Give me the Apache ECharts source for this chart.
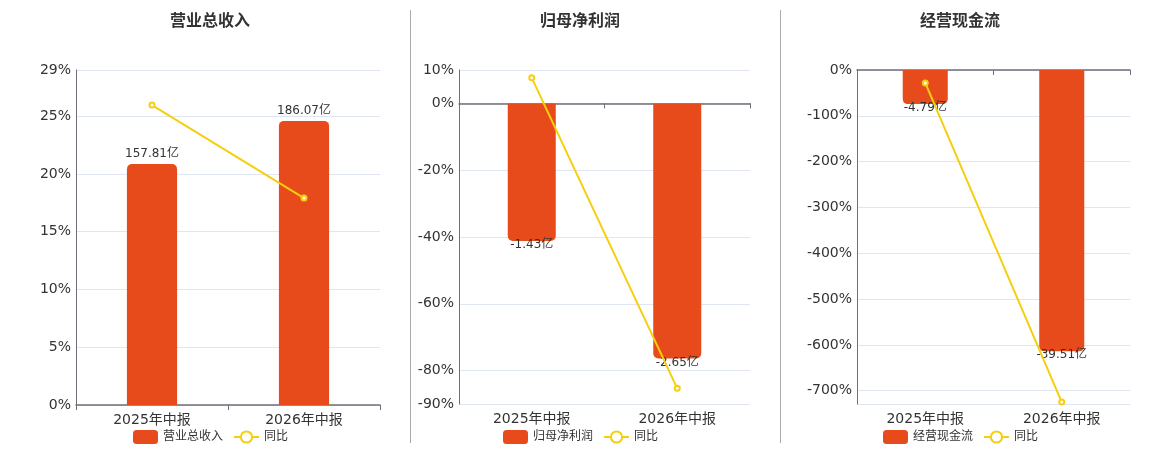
<!DOCTYPE html>
<html>
<head>
<meta charset="utf-8">
<script src="https://cdn.jsdelivr.net/npm/echarts@6/dist/echarts.min.js"></script>
<style>
  html, body { margin: 0; padding: 0; background: #fff; }
  #main { width: 1160px; height: 450px; }
</style>
</head>
<body>
<div id="main"></div>
<script>
// categories shared by the three panels
const categories = ['2025年中报', '2026年中报'];

// 营业总收入 (亿) and 同比 (%)
const revenue = [157.81, 186.07];
const revenueYoy = [25.96, 17.91];

// 归母净利润 (亿) and 同比 (%)
const netProfit = [-1.43, -2.65];
const netProfitYoy = [7.66, -85.31];

// 经营现金流 (亿) and 同比 (%)
const cashFlow = [-4.79, -39.51];
const cashFlowYoy = [-28.3, -724.84];

const BAR_COLOR = '#E84B1B';
const LINE_COLOR = '#F5CF0D';
const FONT = "'DejaVu Sans', 'Noto Sans CJK SC', sans-serif";

// one panel per metric: grid box, axis ranges, where the title/legend sit
const panels = [
    {
        name: '营业总收入', bars: revenue, yoy: revenueYoy,
        grid: { left: 76, top: 70, width: 304, height: 335 },
        pctMin: 0, pctMax: 29, barMin: 0, barMax: 219.4,
        titleX: 205, legendX: 128, negative: false,
    },
    {
        name: '归母净利润', bars: netProfit, yoy: netProfitYoy,
        grid: { left: 459, top: 70, width: 291, height: 334 },
        pctMin: -90, pctMax: 10, barMin: -3.124, barMax: 0.347,
        titleX: 575, legendX: 498, negative: true,
    },
    {
        name: '经营现金流', bars: cashFlow, yoy: cashFlowYoy,
        grid: { left: 857, top: 70, width: 273, height: 334 },
        pctMin: -729, pctMax: 0, barMin: -46.9, barMax: 0,
        titleX: 955, legendX: 878, negative: true,
    },
];

const option = {
    animation: false,
    textStyle: { fontFamily: FONT },
    title: [],
    legend: [],
    grid: [],
    xAxis: [],
    yAxis: [],
    series: [],
    graphic: [410.5, 780.5].map((x) => ({
        type: 'line',
        shape: { x1: x, y1: 10, x2: x, y2: 443 },
        style: { stroke: '#aaaaaa', lineWidth: 1 },
    })),
};

panels.forEach((p, k) => {
    option.title.push({
        text: p.name,
        left: p.titleX,
        top: 9,
        textAlign: 'center',
        textStyle: { fontSize: 16, fontWeight: 'bold', color: '#333', fontFamily: FONT },
    });

    option.legend.push({
        left: p.legendX,
        top: 425,
        itemWidth: 25,
        itemHeight: 14,
        itemGap: 10,
        textStyle: { fontSize: 12, color: '#333', fontFamily: FONT },
        data: [p.name, { name: '同比' + k }],
        formatter: (n) => (n.indexOf('同比') === 0 ? '同比' : n),
    });

    option.grid.push(Object.assign({ containLabel: false }, p.grid));

    // axis that sits on zero, with the dark line and ticks
    option.xAxis.push({
        type: 'category',
        gridIndex: k,
        data: categories,
        axisLine: { onZero: true, lineStyle: { color: '#6E7079', width: 1.5 } },
        axisTick: { show: true, lineStyle: { color: '#6E7079' } },
        axisLabel: { show: false },
    });
    // axis at the bottom that only carries the labels
    option.xAxis.push({
        type: 'category',
        gridIndex: k,
        position: 'bottom',
        data: categories,
        axisLine: { show: false, onZero: false },
        axisTick: { show: false },
        axisLabel: { fontSize: 14, color: '#333', margin: 8, fontFamily: FONT },
    });

    option.yAxis.push({
        type: 'value',
        gridIndex: k,
        min: p.pctMin,
        max: p.pctMax,
        axisLine: { show: true, lineStyle: { color: '#6E7079' } },
        axisTick: { show: false },
        axisLabel: { fontSize: 14, color: '#333', margin: 5, formatter: '{value}%', fontFamily: FONT },
        splitLine: { lineStyle: { color: '#E0E6F1' } },
    });
    option.yAxis.push({
        type: 'value',
        gridIndex: k,
        min: p.barMin,
        max: p.barMax,
        show: false,
        splitLine: { show: false },
    });

    option.series.push({
        name: p.name,
        type: 'bar',
        xAxisIndex: 2 * k,
        yAxisIndex: 2 * k + 1,
        barWidth: '33%',
        data: p.bars,
        itemStyle: {
            color: BAR_COLOR,
            borderRadius: p.negative ? [0, 0, 5, 5] : [5, 5, 0, 0],
        },
        label: {
            show: true,
            position: p.negative ? 'bottom' : 'top',
            distance: p.negative ? -2 : 4,
            fontSize: 12,
            color: '#333',
            fontFamily: FONT,
            formatter: (d) => d.value + '亿',
        },
    });

    option.series.push({
        name: '同比' + k,
        type: 'line',
        xAxisIndex: 2 * k,
        yAxisIndex: 2 * k,
        data: p.yoy,
        symbol: 'emptyCircle',
        symbolSize: 5,
        lineStyle: { color: LINE_COLOR, width: 2 },
        itemStyle: { color: LINE_COLOR, borderWidth: 1.5 },
        z: 5,
    });
});

const chart = echarts.init(document.getElementById('main'));
chart.setOption(option);
</script>
</body>
</html>
